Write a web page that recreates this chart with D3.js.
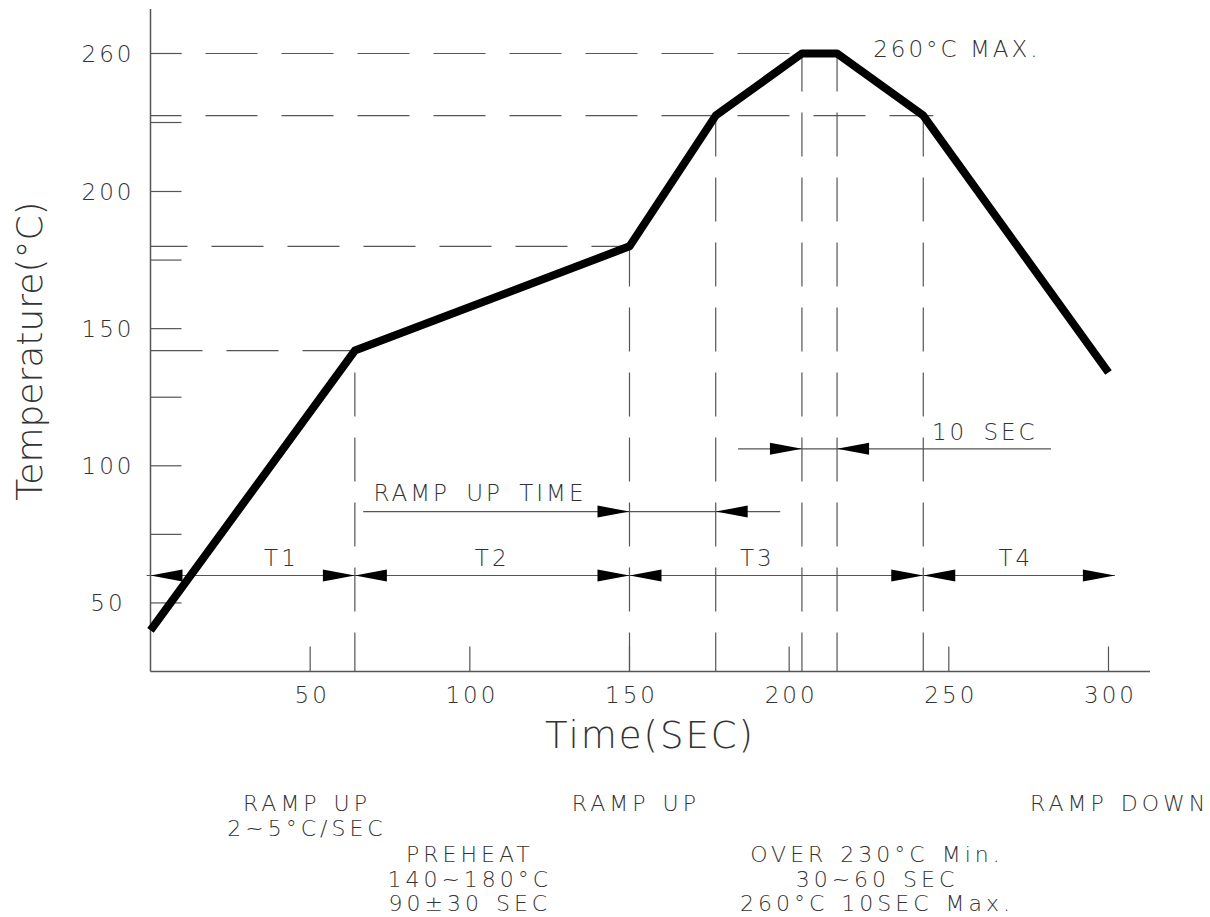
<!DOCTYPE html>
<html>
<head>
<meta charset="utf-8">
<script src="https://cdn.jsdelivr.net/npm/d3@7"></script>
<style>
  body { margin: 0; background: #fff; }
  text { font-family: "DejaVu Sans", sans-serif; font-weight: 200; fill: #333; }
</style>
</head>
<body>
<svg id="chart" width="1210" height="917"></svg>
<script>
// reflow profile (sec, degC)
const profileTime = [0, 64, 150, 177, 204, 215, 242, 300]
const profileTemp = [40, 142, 180, 233, 260, 260, 233, 134]

const xTicks = [50, 100, 150, 200, 250, 300]
const yTicks = [50, 100, 150, 200, 260]
const yMinorTicks = [75, 125, 175, 230]

// dashed guides
const guideTemps = [142, 180, 233, 260]
const guideTimes = [64, 150, 177, 204, 215, 242]

// zones T1..T4
const zoneBounds = [0, 64, 150, 242, 302]
const zoneNames = ['T1', 'T2', 'T3', 'T4']
const zoneLabelTime = [41, 107, 190, 271]

// notes under the chart
const noteTime = [49, 100, 152, 227.5, 303.5]
const noteLines = [
  ['RAMP UP', '2~5°C/SEC'],
  ['', '', 'PREHEAT', '140~180°C', '90±30 SEC'],
  ['RAMP UP'],
  ['', '', 'OVER 230°C Min.', '30~60 SEC', '260°C 10SEC Max.'],
  ['RAMP DOWN']
]

const svg = d3.select('#chart')

const x = d3.scaleLinear().domain([0, 313]).range([150.5, 1150])
// the drawing is schematic: the 200-260 span is squeezed
const y = d3.scaleLinear().domain([25, 200, 260, 279]).range([671.5, 191.5, 53.5, 9])

const ink = '#555'

// axes
svg.append('line')
  .attr('x1', x(0)).attr('x2', x(0))
  .attr('y1', y(25)).attr('y2', y(279))
  .attr('stroke', ink).attr('stroke-width', 1.5)
svg.append('line')
  .attr('x1', x(0)).attr('x2', x(313))
  .attr('y1', y(25)).attr('y2', y(25))
  .attr('stroke', ink).attr('stroke-width', 1.5)

svg.selectAll('.xtick')
  .data(xTicks)
  .enter().append('line')
  .attr('x1', d => x(d)).attr('x2', d => x(d))
  .attr('y1', y(25)).attr('y2', y(25) - 25)
  .attr('stroke', ink).attr('stroke-width', 1.2)

svg.selectAll('.ytick')
  .data(yTicks.concat(yMinorTicks))
  .enter().append('line')
  .attr('x1', x(0)).attr('x2', x(0) + 31)
  .attr('y1', d => y(d)).attr('y2', d => y(d))
  .attr('stroke', ink).attr('stroke-width', 1.2)

svg.selectAll('.xlabel')
  .data(xTicks)
  .enter().append('text')
  .attr('x', d => x(d) + 2).attr('y', 703)
  .attr('text-anchor', 'middle')
  .style('font-size', '23px').style('letter-spacing', '3px')
  .text(d => d)

svg.selectAll('.ylabel')
  .data(yTicks)
  .enter().append('text')
  .attr('x', 108).attr('y', d => y(d) + 8.5)
  .attr('text-anchor', 'middle')
  .style('font-size', '23px').style('letter-spacing', '3px')
  .text(d => d)

svg.append('text')
  .attr('x', 650).attr('y', 748)
  .attr('text-anchor', 'middle')
  .style('font-size', '37px').style('letter-spacing', '2px')
  .text('Time(SEC)')

svg.append('text')
  .attr('transform', 'translate(42,351) rotate(-90)')
  .attr('text-anchor', 'middle')
  .style('font-size', '36px')
  .text('Temperature(°C)')

// dashed guide lines
const tempAt = t => profileTemp[profileTime.indexOf(t)]
const lastTimeAt = v => d3.max(profileTime.filter((t, i) => profileTemp[i] === v))

svg.selectAll('.hguide')
  .data(guideTemps)
  .enter().append('line')
  .attr('x1', x(0)).attr('x2', d => x(lastTimeAt(d)) + (d === 233 ? 10 : 0))
  .attr('y1', d => y(d)).attr('y2', d => y(d))
  .attr('stroke', ink).attr('stroke-width', 1.2)
  .attr('stroke-dasharray', '52,24')
  .attr('stroke-dashoffset', (d, i) => [0, 15, 21, 21][i])

svg.selectAll('.vguide')
  .data(guideTimes)
  .enter().append('line')
  .attr('x1', d => x(d)).attr('x2', d => x(d))
  .attr('y1', y(25)).attr('y2', d => y(tempAt(d)))
  .attr('stroke', ink).attr('stroke-width', 1.2)
  .attr('stroke-dasharray', '44,21')
  .attr('stroke-dashoffset', 5)

// dimension lines with arrows
function arrow(tip, yy, dir) {
  const b = tip - dir * 32
  svg.append('path')
    .attr('d', `M${tip},${yy}L${b},${yy - 6}L${b},${yy + 6}Z`)
    .attr('fill', '#000')
}

function dimLine(t0, t1, level) {
  svg.append('line')
    .attr('x1', x(t0)).attr('x2', x(t1))
    .attr('y1', y(level)).attr('y2', y(level))
    .attr('stroke', ink).attr('stroke-width', 1.2)
}

// T1..T4 row
dimLine(-1.2, 302, 60)
zoneNames.forEach((name, i) => {
  arrow(x(zoneBounds[i]), y(60), -1)
  arrow(x(zoneBounds[i + 1]), y(60), 1)
})
svg.selectAll('.zone')
  .data(zoneNames)
  .enter().append('text')
  .attr('x', (d, i) => x(zoneLabelTime[i])).attr('y', y(60) - 10)
  .attr('text-anchor', 'middle')
  .style('font-size', '23px').style('letter-spacing', '3px')
  .text(d => d)

// ramp up time (150 -> 177)
dimLine(66.6, 197.2, 83.3)
arrow(x(150), y(83.3), 1)
arrow(x(177), y(83.3), -1)
svg.append('text')
  .attr('x', x(69.8)).attr('y', y(83.3) - 11)
  .style('font-size', '23px').style('letter-spacing', '3px').style('word-spacing', '6px')
  .text('RAMP UP TIME')

// 10 sec at peak (204 -> 215)
dimLine(184, 282, 106.2)
arrow(x(204), y(106.2), 1)
arrow(x(215), y(106.2), -1)
svg.append('text')
  .attr('x', x(244.7)).attr('y', y(106.2) - 9)
  .style('font-size', '23px').style('letter-spacing', '3px').style('word-spacing', '6px')
  .text('10 SEC')

svg.append('text')
  .attr('x', x(226.3)).attr('y', y(260) + 3)
  .style('font-size', '23px').style('letter-spacing', '3px')
  .text('260°C MAX.')

// profile
const line = d3.line()
  .x(d => x(d[0]))
  .y(d => y(d[1]))

svg.append('path')
  .datum(d3.zip(profileTime, profileTemp))
  .attr('d', line)
  .attr('fill', 'none')
  .attr('stroke', '#000')
  .attr('stroke-width', 8)
  .attr('stroke-linejoin', 'round')

// notes
const noteRows = [811, 836, 862, 887, 911]
noteLines.forEach((lines, i) => {
  lines.forEach((s, j) => {
    if (!s) return
    svg.append('text')
      .attr('x', x(noteTime[i])).attr('y', noteRows[j])
      .attr('text-anchor', 'middle')
      .style('font-size', '22px').style('letter-spacing', '4px').style('word-spacing', '2px')
      .text(s)
  })
})
</script>
</body>
</html>
